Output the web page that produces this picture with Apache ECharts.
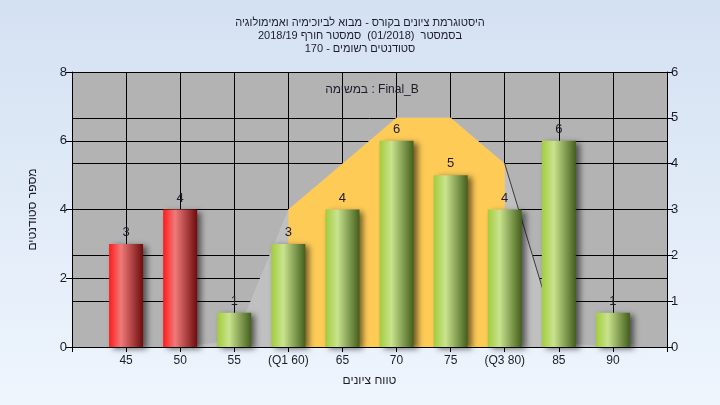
<!DOCTYPE html>
<html>
<head>
<meta charset="utf-8">
<script src="https://cdn.jsdelivr.net/npm/echarts@6/dist/echarts.min.js"></script>
<style>html,body{margin:0;padding:0;}#c{width:720px;height:405px;}</style>
</head>
<body>
<div id="c"></div>
<script>
// ---- data ----
var scores = [45, 50, 55, 60, 65, 70, 75, 80, 85, 90];
var tickLabels = {45:'45', 50:'50', 55:'55', 60:'(Q1 60)', 65:'65', 70:'70', 75:'75', 80:'(Q3 80)', 85:'85', 90:'90'};
var counts = [3, 4, 1, 3, 4, 6, 5, 4, 6, 1];
var normalCurve = [0, 0, 0.15, 3, 4, 5, 5, 4, 0.1, 0];
var q1 = 60, q3 = 80;
var failBelow = 55;
var titleLines = [
  'היסטוגרמת ציונים בקורס - מבוא לביוכימיה ואמימולוגיה',
  'בסמסטר  (01/2018)  סמסטר חורף 2018/19',
  'סטודנטים רשומים - 170'
];
var legendText = 'במשימה : Final_B';
var xName = 'טווח ציונים';
var yName = 'מספר סטודנטים';

// ---- build ----
var FONT = '"Liberation Sans Narrow", "Arial Narrow", "Liberation Sans", sans-serif';
function grad(c1, c2, c3) {
  return new echarts.graphic.LinearGradient(0, 0, 1, 0, [
    {offset: 0, color: c1}, {offset: 0.35, color: c2}, {offset: 1, color: c3}
  ]);
}
var redG = grad('#ff1a1a', '#f07a7a', '#6e0c0c');
var greenG = grad('#a2cc3c', '#c9e38e', '#445f1c');

var barData = scores.map(function (s, i) {
  return {value: [s, counts[i]], itemStyle: {color: s < failBelow ? redG : greenG}};
});
var curveData = scores.map(function (s, i) { return [s, normalCurve[i]]; });
var qData = scores.map(function (s, i) { return (s >= q1 && s <= q3) ? [s, normalCurve[i]] : [s, null]; });
var qi = scores.indexOf(q3);
var tailData = [[scores[qi], normalCurve[qi]], [scores[qi + 1], normalCurve[qi + 1]]];

var chart = echarts.init(document.getElementById('c'));
chart.setOption({
  animation: false,
  backgroundColor: new echarts.graphic.LinearGradient(0, 0, 0, 1, [
    {offset: 0, color: '#d4e1f2'}, {offset: 1, color: '#eef5fd'}
  ]),
  textStyle: {fontFamily: FONT},
  title: [{
    text: titleLines.join('\n'),
    left: 'center', top: 11,
    textStyle: {fontSize: 11, fontWeight: 'normal', color: '#1c1c2c', lineHeight: 13, fontFamily: FONT}
  }, {
    text: legendText,
    left: 367, top: 79, textAlign: 'center',
    textStyle: {fontSize: 12, fontWeight: 'normal', color: '#1c1c2c', fontFamily: FONT}
  }],
  grid: {left: 72, right: 53, top: 72, bottom: 58, show: true, backgroundColor: '#b3b3b3', borderWidth: 0},
  xAxis: {
    type: 'value', min: 40, max: 95, interval: 5,
    name: xName, nameLocation: 'middle', nameGap: 28,
    nameTextStyle: {fontSize: 12, color: '#1c1c2c', fontFamily: FONT},
    axisLine: {show: true, lineStyle: {color: '#000', width: 1}},
    axisTick: {show: true, length: 5, lineStyle: {color: '#000'}},
    axisLabel: {fontSize: 12, color: '#1c1c2c', margin: 8, fontFamily: FONT,
      formatter: function (v) { return tickLabels[v] || ''; }},
    splitLine: {show: true, lineStyle: {color: '#000', width: 1}}
  },
  yAxis: [{
    type: 'value', min: 0, max: 8, interval: 2,
    name: yName, nameLocation: 'middle', nameGap: 33,
    nameTextStyle: {fontSize: 12, color: '#1c1c2c', fontFamily: FONT},
    axisLine: {show: true, lineStyle: {color: '#000'}},
    axisTick: {show: true, length: 6, lineStyle: {color: '#000'}},
    axisLabel: {fontSize: 13, color: '#1c1c2c', margin: 5, fontFamily: FONT},
    splitLine: {show: true, lineStyle: {color: '#000', width: 1}}
  }, {
    type: 'value', min: 0, max: 6, interval: 1, position: 'right',
    axisLine: {show: true, lineStyle: {color: '#000'}},
    axisTick: {show: true, length: 6, lineStyle: {color: '#000'}},
    axisLabel: {fontSize: 13, color: '#1c1c2c', margin: 4, fontFamily: FONT},
    splitLine: {show: true, lineStyle: {color: '#000', width: 1}}
  }],
  series: [{
    type: 'line', yAxisIndex: 1, data: curveData, symbol: 'none', z: 1,
    lineStyle: {width: 0}, areaStyle: {color: '#c0c0c0', opacity: 1}, silent: true
  }, {
    type: 'line', yAxisIndex: 1, data: qData, symbol: 'none', z: 2, connectNulls: false,
    lineStyle: {width: 0}, areaStyle: {color: '#ffcb57', opacity: 1}, silent: true
  }, {
    type: 'line', yAxisIndex: 1, data: tailData, symbol: 'none', z: 2,
    lineStyle: {width: 1, color: '#3a3a3a'}, silent: true
  }, {
    type: 'bar', yAxisIndex: 0, data: barData, barWidth: 34, z: 3,
    itemStyle: {shadowColor: 'rgba(0,0,0,0.55)', shadowBlur: 6, shadowOffsetX: 4, shadowOffsetY: 2},
    label: {show: true, position: 'top', distance: 5, fontSize: 13, color: '#1c1c2c', fontFamily: FONT}
  }]
});
</script>
</body>
</html>
